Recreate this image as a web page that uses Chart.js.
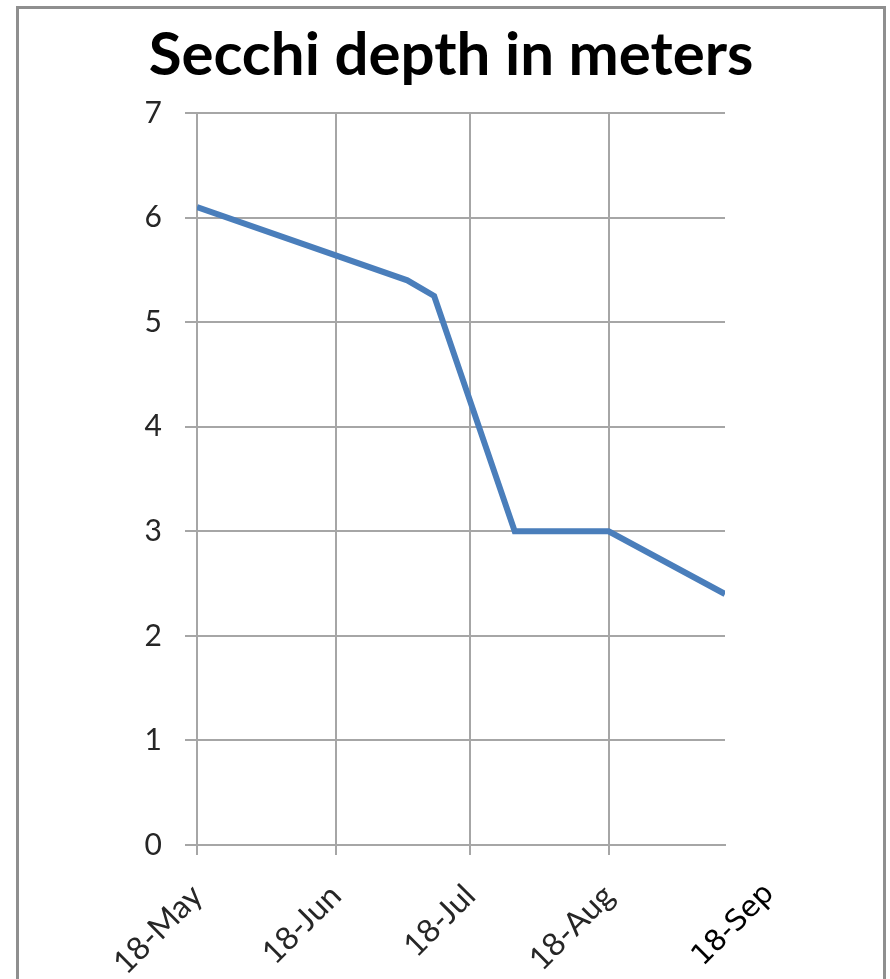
<!DOCTYPE html>
<html>
<head>
<meta charset="utf-8">
<script src="https://cdn.jsdelivr.net/npm/chart.js@4"></script>
<style>
  html, body { margin: 0; padding: 0; background: #fff; }
  #wrap { width: 890px; height: 979px; }
</style>
</head>
<body>
<div id="wrap"><canvas id="secchiChart" width="890" height="979"></canvas></div>
<script>
// sample dates and secchi depth (m)
const sampleDates = ["2009-05-18", "2009-07-04", "2009-07-10", "2009-07-28", "2009-08-18", "2009-09-13"];
const depths = [6.1, 5.4, 5.25, 3.0, 3.0, 2.4];

// x axis ticks; the "18-Sep" label in the original is a hand-placed text box past the axis end
const tickDates = ["2009-05-18", "2009-06-18", "2009-07-18", "2009-08-18", "2009-09-23"];
const tickLabels = ["18-May", "18-Jun", "18-Jul", "18-Aug", "18-Sep"];

const DAY = 24 * 3600 * 1000;
const start = Date.parse(sampleDates[0]);
function dayNum(d) {
  return Math.round((Date.parse(d) - start) / DAY);
}

const points = sampleDates.map((d, i) => ({ x: dayNum(d), y: depths[i] }));
const tickDays = tickDates.map(dayNum);

const gridGray = "#a6a6a6";
const lastTick = tickLabels.length - 1;

// grey frame around the whole chart
const frame = {
  id: "frame",
  beforeDraw(chart) {
    const c = chart.ctx;
    c.save();
    c.fillStyle = "#fff";
    c.fillRect(0, 0, chart.width, chart.height);
    c.strokeStyle = "#8f8f8f";
    c.lineWidth = 3;
    c.strokeRect(17.5, 7.5, 867, 1000);
    c.restore();
  },
};

const ctx = document.getElementById("secchiChart").getContext("2d");

const secchiChart = new Chart(ctx, {
  type: "line",
  data: {
    datasets: [
      {
        label: "Secchi depth",
        data: points,
        borderColor: "#4A7EBB",
        borderWidth: 6,
        pointRadius: 0,
        tension: 0,
        fill: false,
      },
    ],
  },
  options: {
    responsive: false,
    animation: false,
    layout: {
      padding: { top: 20, right: 0, bottom: 0, left: 12 },
    },
    plugins: {
      legend: { display: false },
      tooltip: { enabled: false },
      title: {
        display: true,
        text: "Secchi depth in meters",
        color: "#000",
        font: { family: "Lato", weight: "bold", size: 60, lineHeight: 1.2 },
        padding: { top: 0, bottom: 21 },
      },
    },
    scales: {
      x: {
        type: "linear",
        min: dayNum(sampleDates[0]),
        max: dayNum(sampleDates[sampleDates.length - 1]),
        afterBuildTicks: (scale) => {
          scale.ticks = tickDays.map((v) => ({ value: v }));
        },
        afterFit: (scale) => {
          scale.height = 134;
        },
        grid: {
          color: (c) => (c.index === lastTick ? "rgba(0,0,0,0)" : gridGray),
          lineWidth: 2,
          tickLength: 10,
        },
        border: { color: gridGray, width: 2 },
        ticks: {
          autoSkip: false,
          minRotation: 45,
          maxRotation: 45,
          padding: 22,
          color: (c) => (c.index === lastTick ? "#000" : "#262626"),
          font: (c) =>
            c.index === lastTick
              ? { family: "DejaVu Sans", size: 29 }
              : { family: "Lato", size: 32 },
          callback: (value, index) => tickLabels[index],
        },
      },
      y: {
        min: 0,
        max: 7,
        afterFit: (scale) => {
          scale.width = 185;
        },
        grid: {
          color: gridGray,
          lineWidth: 2,
          tickLength: 12,
        },
        border: { color: gridGray, width: 2 },
        ticks: {
          stepSize: 1,
          padding: 23,
          color: "#262626",
          font: { family: "Lato", size: 30 },
        },
      },
      // empty right-hand strip, keeps the plot narrow while the title stays centred
      yRight: {
        position: "right",
        min: 0,
        max: 7,
        afterFit: (scale) => {
          scale.width = 165;
        },
        grid: { display: false },
        border: { display: false },
        ticks: { display: false },
      },
    },
  },
  plugins: [frame],
});
</script>
</body>
</html>
